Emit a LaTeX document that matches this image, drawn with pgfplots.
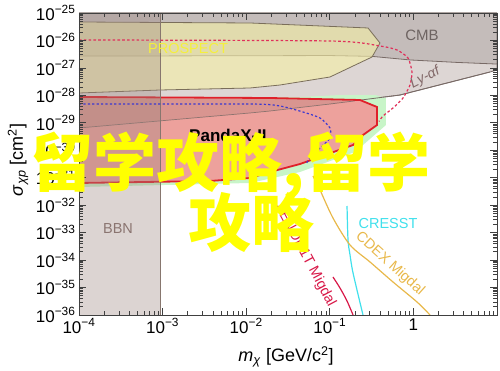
\documentclass[border=0pt]{standalone}
\usepackage{fontspec}
\setmainfont{Liberation Sans}
\newfontfamily\cjk{Noto Sans CJK SC}
\usepackage{pgfplots}
\pgfplotsset{compat=1.18}
\definecolor{lyagray}{RGB}{221,214,212}
\definecolor{cmbgray}{RGB}{196,188,186}
\definecolor{linegray}{RGB}{120,106,102}
\definecolor{prosp}{RGB}{245,240,165}
\definecolor{prospline}{RGB}{122,110,90}
\definecolor{pgreen}{RGB}{200,245,200}
\definecolor{redfill}{RGB}{243,150,150}
\definecolor{redline}{RGB}{224,32,42}
\definecolor{overlay}{RGB}{150,110,105}
\definecolor{bbnc}{RGB}{155,132,126}
\definecolor{bbnline}{RGB}{135,118,110}
\definecolor{rdash}{RGB}{224,48,90}
\definecolor{bdash}{RGB}{60,56,208}
\definecolor{xenon}{RGB}{216,24,72}
\definecolor{cresst}{RGB}{64,224,236}
\definecolor{cdex}{RGB}{232,184,74}
\definecolor{labgray}{RGB}{110,100,98}
\definecolor{lyalab}{RGB}{130,104,104}
\definecolor{bbnlab}{RGB}{138,116,112}
\definecolor{prosplab}{RGB}{245,240,60}
\definecolor{wm}{RGB}{255,255,0}
\begin{document}
\begin{tikzpicture}
\useasboundingbox (-79pt,-56pt) rectangle (421pt,315pt);
% ---------------- data axis (values are log10 of m and sigma) ----------------
\begin{axis}[at={(0pt,0pt)}, anchor=south west, scale only axis,
  width=418pt, height=302pt, xmin=-4, xmax=1, ymin=-36, ymax=-25,
  hide axis, clip=true]
% Ly-alpha
\addplot[fill=lyagray, draw=linegray, line width=0.8pt] coordinates {
 (-4,-25) (1,-25) (1,-27.076) (0.916,-27.149) (-0.159,-27.987) (-0.998,-28.315)
 (-1.715,-28.570) (-1.955,-28.642) (-4,-29.189)} -- cycle;
% CMB
\addplot[fill=cmbgray, draw=linegray, line width=0.8pt] coordinates {
 (-4,-25) (1,-25) (1,-26.86) (0.52,-26.80) (-0.041,-26.71) (-0.495,-26.58)
 (-0.998,-26.55) (-4,-26.57)} -- cycle;
% PROSPECT
\addplot[fill=prosp, fill opacity=0.6, draw=prospline, line width=0.8pt] coordinates {
 (-4,-25.328) (-1.955,-25.364) (-0.543,-25.546) (-0.400,-26.093) (-0.495,-26.603)
 (-0.998,-27.331) (-1.596,-27.623) (-1.955,-27.732) (-3.031,-27.805) (-4,-27.914)} -- cycle;
% green region
\addplot[fill=pgreen, draw=none] coordinates {
 (-4,-28.060) (-1.356,-28.060) (-0.878,-27.987) (-0.459,-27.987) (-0.328,-28.096)
 (-0.328,-29.080) (-0.699,-30.063) (-1.356,-30.791) (-1.955,-31.192) (-4,-31.338)} -- cycle;
% Ly-alpha boundary redrawn over green
\addplot[draw=linegray, line width=0.8pt] coordinates {
 (-0.998,-28.315) (-0.159,-27.987) (0.916,-27.149)};
% PandaX-II region
\addplot[fill=redfill, fill opacity=0.88, draw=redline, line width=1.8pt] coordinates {
 (-4,-28.060) (-1.715,-28.096) (-0.639,-28.169) (-0.435,-28.424) (-0.435,-29.080)
 (-0.603,-29.444) (-0.722,-29.808) (-1.356,-30.500) (-1.715,-30.791) (-1.955,-31.010)
 (-2.433,-31.119) (-4,-31.192)} -- cycle;
% Ly-alpha part seen through the PandaX-II region
\addplot[fill=overlay, fill opacity=0.22, draw=none] coordinates {
 (-4,-28.10) (-1.715,-28.13) (-0.75,-28.19) (-0.998,-28.315)
 (-1.715,-28.570) (-1.955,-28.642) (-4,-29.189)} -- cycle;
\addplot[draw=linegray, line width=0.7pt, opacity=0.8] coordinates {
 (-4,-29.189) (-1.955,-28.642) (-1.715,-28.570) (-0.998,-28.315) (-0.700,-28.20)};
% BBN
\addplot[fill=bbnc, fill opacity=0.35, draw=none] coordinates {
 (-4,-36) (-3.031,-36) (-3.031,-25) (-4,-25)} -- cycle;
\addplot[draw=bbnline, line width=1pt] coordinates {(-3.031,-36) (-3.031,-25)};
% red dashed
\addplot[draw=rdash, line width=1.2pt, dash pattern=on 2.6pt off 2.2pt, smooth, tension=0.4] coordinates {
 (-4,-25.983) (-0.998,-26.020) (-0.400,-26.202) (-0.196,-26.348) (-0.065,-26.639)
 (-0.017,-27.149) (-0.041,-27.623) (-0.124,-28.096) (-0.244,-28.460) (-0.364,-28.752) (-0.412,-28.95)};
% blue dashed
\addplot[draw=bdash, line width=1.2pt, dash pattern=on 2.2pt off 2.2pt, smooth, tension=0.4] coordinates {
 (-4,-28.315) (-1.955,-28.315) (-1.596,-28.388) (-1.321,-28.606) (-1.117,-28.825)
 (-0.998,-29.189) (-0.998,-29.553) (-1.117,-29.917) (-1.237,-30.282) (-1.285,-30.500)};
% XENON1T Migdal
\addplot[draw=xenon, line width=1.2pt, smooth] coordinates {
 (-0.962,-34.616) (-0.878,-35.017) (-0.794,-35.490) (-0.722,-36)};
% CRESST
\addplot[draw=cresst, line width=1.2pt, smooth] coordinates {
 (-0.794,-32.030) (-0.782,-33.268) (-0.758,-33.815) (-0.722,-34.470) (-0.603,-36)};
% CDEX Migdal
\addplot[draw=cdex, line width=1.2pt, smooth] coordinates {
 (-1.201,-30.937) (-1.117,-31.447) (-0.962,-32.467) (-0.758,-33.450) (-0.519,-34.069)
 (-0.244,-34.798) (0.043,-35.526) (0.199,-36)};
% labels
\node[text=prosplab, font=\fontsize{14.5}{14.5}\selectfont] at (axis cs:-2.696,-26.311) {PROSPECT};
\node[text=labgray, font=\fontsize{15}{15}\selectfont] at (axis cs:0.103,-25.801) {CMB};
\node[text=lyalab, rotate=27, font=\fontsize{14}{14}\selectfont\itshape] at (axis cs:0.139,-27.368) {Ly-αf};
\node[text=black, font=\fontsize{17}{17}\selectfont\bfseries] at (axis cs:-2.218,-29.444) {PandaX-II};
\node[text=bbnlab, font=\fontsize{14.5}{14.5}\selectfont] at (axis cs:-3.533,-32.832) {BBN};
\node[text=cresst, font=\fontsize{14.5}{14.5}\selectfont] at (axis cs:-0.304,-32.650) {CRESST};
\node[text=cdex, rotate=-42, font=\fontsize{14.5}{14.5}\selectfont] at (axis cs:-0.280,-34.143) {CDEX Migdal};
\node[text=xenon, rotate=-62, font=\fontsize{14.5}{14.5}\selectfont] at (axis cs:-1.297,-33.815) {XENON1T Migdal};
\end{axis}
% ---------------- frame / ticks axis ----------------
\begin{axis}[at={(0pt,0pt)}, anchor=south west, scale only axis,
  width=418pt, height=302pt,
  xmode=log, ymode=log, xmin=1e-4, xmax=10, ymin=1e-36, ymax=1e-25,
  xtickten={-4,-3,-2,-1,0,1}, ytickten={-36,-35,-34,-33,-32,-31,-30,-29,-28,-27,-26,-25},
  xticklabels={10\textsuperscript{−4},10\textsuperscript{−3},10\textsuperscript{−2},10\textsuperscript{−1},1,{}},
  yticklabels={10\textsuperscript{−36},10\textsuperscript{−35},10\textsuperscript{−34},10\textsuperscript{−33},10\textsuperscript{−32},10\textsuperscript{−31},10\textsuperscript{−30},10\textsuperscript{−29},10\textsuperscript{−28},10\textsuperscript{−27},10\textsuperscript{−26},10\textsuperscript{−25}},
  tick align=inside, major tick length=7pt, minor tick length=4pt,
  every tick/.style={color=black!75, line width=0.7pt},
  axis line style={color=black!75, line width=0.9pt},
  ticklabel style={font=\fontsize{17}{17}\selectfont},
  ]
\addplot[draw=none] coordinates {(1e-3,1e-30)};
\end{axis}
% axis labels
\node[rotate=90, font=\fontsize{18}{18}\selectfont] at (-61pt,155pt)
  {\textit{σ}\textsubscript{\textit{χp}} [cm\textsuperscript{2}]};
\node[font=\fontsize{18}{18}\selectfont] at (207pt,-42pt)
  {\textit{m}\textsubscript{\textit{χ}} [GeV/c\textsuperscript{2}]};
% overlaid watermark
\node[anchor=base west, inner sep=0pt, text=wm, font=\cjk\bfseries\fontsize{63}{63}\selectfont] at (-49pt,128pt) {留学攻略,留学};
\node[anchor=base west, inner sep=0pt, text=wm, font=\cjk\bfseries\fontsize{63}{63}\selectfont] at (109pt,68pt) {攻略};
\end{tikzpicture}
\end{document}
